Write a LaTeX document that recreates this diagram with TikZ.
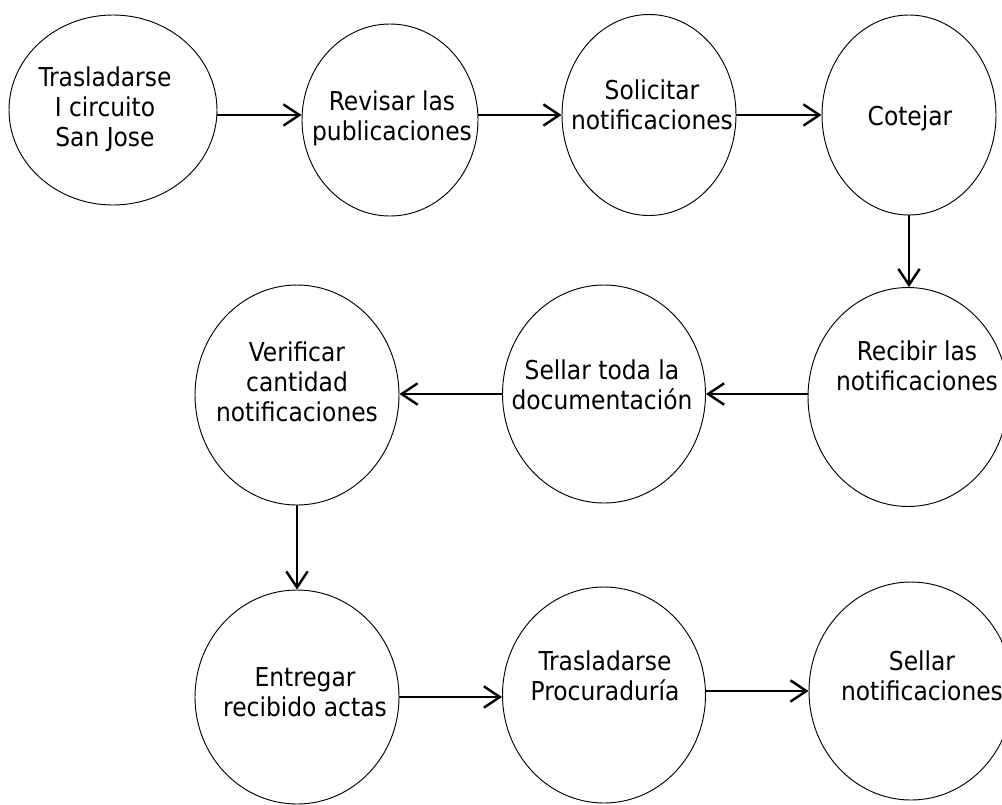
\documentclass[tikz,border=0pt]{standalone}
\usepackage{fontspec}
\setmainfont{DejaVu Sans Condensed}
\usetikzlibrary{shapes.geometric,arrows.meta}

\begin{document}
\begin{tikzpicture}[x=0.75pt,y=-0.75pt,
  font=\fontsize{19.5}{22.5}\selectfont,
  stage/.style n args={2}{draw=black, line width=0.7pt, ellipse, inner sep=0pt,
    minimum width={#1*0.75pt}, minimum height={#2*0.75pt}},
  caption/.style={align=center, inner sep=0pt},
  flow/.style={line width=1.8pt, -{Straight Barb[length=12pt,width=16pt,line width=1.8pt]}}]

\useasboundingbox (0,0) rectangle (1002,804);
\clip (0,0) rectangle (1002,804);

% process stages (ellipses)
\node[stage={208}{190}] (t1)   at (113,110) {};
\node[stage={176}{192}] (rev)  at (390,120) {};
\node[stage={174}{201}] (sol)  at (649,115) {};
\node[stage={174}{200}] (cot)  at (909,115) {};
\node[stage={200}{219}] (rec)  at (908,397) {};
\node[stage={203}{218}] (sel)  at (604,394) {};
\node[stage={204}{220}] (ver)  at (297,395) {};
\node[stage={204}{214}] (ent)  at (297,697) {};
\node[stage={203}{216}] (pro)  at (604,695) {};
\node[stage={204}{218}] (sno)  at (911,691) {};

% stage captions
\node[caption] (t1txt)  at (105,109) {Trasladarse\\I circuito\\San Jose};
\node[caption] (revtxt) at (392,118) {Revisar las\\publicaciones};
\node[caption] (soltxt) at (652,105) {Solicitar\\notificaciones};
\node[caption] (cottxt) at (910,118) {Cotejar};
\node[caption] (rectxt) at (917,366) {Recibir las\\notificaciones};
\node[caption] (seltxt) at (602,385) {Sellar toda la\\documentación};
\node[caption] (vertxt) at (297,382) {Verificar\\cantidad\\notificaciones};
\node[caption] (enttxt) at (305,692) {Entregar\\recibido actas};
\node[caption] (protxt) at (605,676) {Trasladarse\\Procuraduría};
\node[caption] (snotxt) at (922,676) {Sellar\\notificaciones};

% flow between stages
\draw[flow] (t1.east |- sol.west) -- (rev.west |- sol.west);
\draw[flow] (rev.east |- sol.west) -- (sol.west);
\draw[flow] (sol.east) -- (sol.east -| cot.west);
\draw[flow] (cot.south) -- (cot.south |- rec.north);
\draw[flow] (rec.west |- sel.east) -- (sel.east);
\draw[flow] (sel.west) -- (sel.west -| ver.east);
\draw[flow] (ver.south) -- (ver.south |- ent.north);
\draw[flow] (ent.east) -- (ent.east -| pro.west);
\draw[flow] (pro.east |- sno.west) -- (sno.west);
\end{tikzpicture}
\end{document}
